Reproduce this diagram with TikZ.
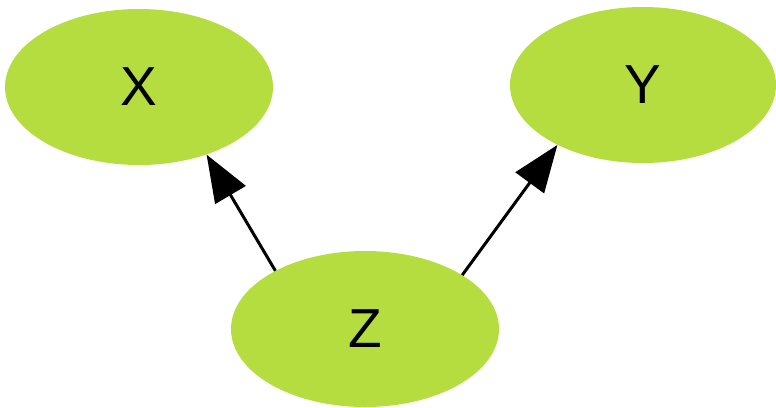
\documentclass[tikz,border=0pt]{standalone}
\usepackage{fontspec}
\setmainfont{Liberation Sans}
\usetikzlibrary{shapes.geometric,arrows.meta}
\definecolor{nodegreen}{RGB}{181,221,64}
\tikzset{
  varnode/.style={ellipse, fill=nodegreen, draw=none, minimum width=268pt, minimum height=156pt, inner sep=0pt, font=\fontsize{55}{60}\selectfont},
  edgearrow/.style={line width=3pt, draw=black, -{Triangle[length=47pt,width=35pt]}}
}
\begin{document}
\begin{tikzpicture}[x=1pt,y=-1pt]
\useasboundingbox (0,0) rectangle (776,407);
\node[varnode] (x) at (139,87) {X};
\node[varnode, minimum width=266pt] (y) at (643,85) {Y};
\node[varnode] (z) at (365,329) {Z};
\draw[edgearrow] (z.147.6) -- (x.-45.9);
\draw[edgearrow] (z.29.6) -- (y.-145.1);
\end{tikzpicture}
\end{document}
